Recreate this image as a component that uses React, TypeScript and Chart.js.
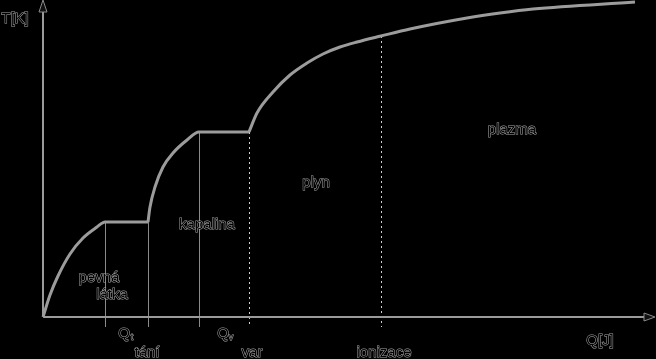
import React, { useEffect, useRef } from "react";
import { Chart, registerables } from "chart.js";

Chart.register(...registerables);

// Heating curve (arbitrary units: Q = heat supplied, T = temperature)
const meltQ = [0, 7, 15, 27, 40, 54, 62, 105];
const meltT = [0, 22, 41, 63, 79, 90, 95, 95];
const boilQ = [105, 107, 112, 120, 130, 144, 156, 206];
const boilT = [95, 110, 130, 150, 164, 177, 185, 185];
const gasQ = [206, 214, 230, 247, 264, 280, 297, 314, 338, 367, 424, 457, 490, 592];
const gasT = [185, 204, 225, 242, 254, 263, 270, 275, 281, 288, 299, 304, 308, 315];

// Vertical marker lines (Q position and top temperature)
const markerQ = [62, 105, 156, 206, 338];
const markerTop = [95, 95, 185, 185, 281];
const markerBottom = -10;

// Phase region labels
const phaseNames = ["pevná", "látka", "kapalina", "plyn", "plazma"];
const phaseQ = [56, 69, 164, 273, 469];
const phaseT = [39, 22, 92, 134, 187];

// Labels under the axis
const bottomNames = ["tání", "var", "ionizace"];
const bottomQ = [104, 209, 341];
const bottomT = [-36, -36, -36];
const heatSubs = ["t", "v"];
const heatQ = [83, 182];
const heatT = [-17, -17];

const xAxisTitle = "Q[J]";
const yAxisTitle = "T[K]";
const axisQMax = 612;
const axisTMax = 317;

const toPts = (qs: number[], ts: number[]) => qs.map((q, i) => ({ x: q, y: ts[i] }));

const LINE = "#9a9a9a";
const FONT = '15px "Liberation Sans", Arial, sans-serif';

function drawText(ctx: CanvasRenderingContext2D, text: string, x: number, y: number, font = FONT) {
  ctx.font = font;
  ctx.textAlign = "center";
  ctx.textBaseline = "middle";
  ctx.lineWidth = 1;
  ctx.strokeStyle = "#a8a8a8";
  ctx.strokeText(text, x, y);
  ctx.fillStyle = "#000";
  ctx.fillText(text, x, y);
}

const overlay = {
  id: "overlay",
  beforeDatasetsDraw(chart: any) {
    const ctx: CanvasRenderingContext2D = chart.ctx;
    const xs = chart.scales.x;
    const ys = chart.scales.y;
    const px = (v: number) => xs.getPixelForValue(v);
    const py = (v: number) => ys.getPixelForValue(v);
    ctx.save();
    markerQ.forEach((q, i) => {
      ctx.beginPath();
      ctx.strokeStyle = i >= 3 ? "#cfcfcf" : "#8a8a8a";
      ctx.lineWidth = 1;
      ctx.setLineDash(i >= 3 ? [2, 3] : []);
      const x = Math.round(px(q)) + 0.5;
      ctx.moveTo(x, py(markerTop[i]));
      ctx.lineTo(x, py(markerBottom));
      ctx.stroke();
    });
    ctx.setLineDash([]);
    ctx.strokeStyle = LINE;
    ctx.lineWidth = 2;
    const x0 = px(0), y0 = py(0);
    const xEnd = px(axisQMax), yEnd = py(axisTMax);
    ctx.beginPath();
    ctx.moveTo(x0, y0);
    ctx.lineTo(xEnd - 8, y0);
    ctx.moveTo(x0, y0);
    ctx.lineTo(x0, yEnd + 8);
    ctx.stroke();
    ctx.lineWidth = 1;
    ctx.fillStyle = "#111";
    ctx.strokeStyle = "#8a8a8a";
    ctx.beginPath();
    ctx.moveTo(xEnd, y0);
    ctx.lineTo(xEnd - 11, y0 - 4);
    ctx.lineTo(xEnd - 11, y0 + 4);
    ctx.closePath();
    ctx.fill();
    ctx.stroke();
    ctx.beginPath();
    ctx.moveTo(x0, yEnd);
    ctx.lineTo(x0 - 4, yEnd + 12);
    ctx.lineTo(x0 + 4, yEnd + 12);
    ctx.closePath();
    ctx.fill();
    ctx.stroke();
    ctx.restore();
  },
  afterDatasetsDraw(chart: any) {
    const ctx: CanvasRenderingContext2D = chart.ctx;
    const xs = chart.scales.x;
    const ys = chart.scales.y;
    const px = (v: number) => xs.getPixelForValue(v);
    const py = (v: number) => ys.getPixelForValue(v);
    ctx.save();
    phaseNames.forEach((t, i) => drawText(ctx, t, px(phaseQ[i]), py(phaseT[i])));
    bottomNames.forEach((t, i) => drawText(ctx, t, px(bottomQ[i]), py(bottomT[i])));
    heatSubs.forEach((s, i) => {
      const x = px(heatQ[i]);
      const y = py(heatT[i]);
      drawText(ctx, "Q", x - 2, y);
      drawText(ctx, s, x + 6, y + 4, '9px "Liberation Sans", Arial, sans-serif');
    });
    drawText(ctx, xAxisTitle, px(557), py(-24));
    drawText(ctx, yAxisTitle, px(-28), py(298));
    ctx.restore();
  },
};

export default function App() {
  const ref = useRef<HTMLCanvasElement | null>(null);
  useEffect(() => {
    document.body.style.margin = "0";
    document.body.style.background = "#000";
    const segs = [toPts(meltQ, meltT), toPts(boilQ, boilT), toPts(gasQ, gasT)];
    const datasets: any[] = [];
    segs.forEach((d) => {
      datasets.push({
        data: d,
        borderColor: "#9c9c9c",
        borderWidth: 3,
        pointRadius: 0,
        cubicInterpolationMode: "monotone",
        fill: false,
      });
    });
    segs.forEach((d) => {
      datasets.push({
        data: d,
        borderColor: "#000",
        borderWidth: 1.2,
        pointRadius: 0,
        cubicInterpolationMode: "monotone",
        fill: false,
      });
    });
    const chart = new Chart(ref.current as HTMLCanvasElement, {
      type: "line",
      data: { datasets },
      options: {
        responsive: false,
        maintainAspectRatio: false,
        animation: false,
        layout: { padding: 0 },
        plugins: { legend: { display: false }, tooltip: { enabled: false } },
        scales: {
          x: { type: "linear", min: -43, max: 613, display: false },
          y: { type: "linear", min: -42, max: 317, display: false },
        },
      },
      plugins: [overlay],
    });
    return () => chart.destroy();
  }, []);
  return (
    <canvas ref={ref} width={656} height={359} style={{ display: "block", background: "#000" }} />
  );
}
